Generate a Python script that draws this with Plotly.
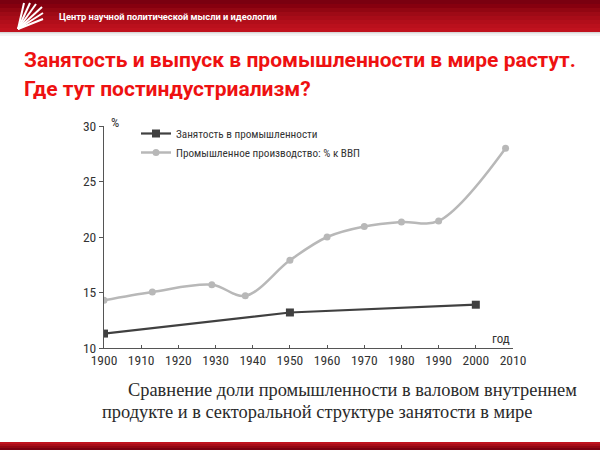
import plotly.graph_objects as go

# data
years_output = [1900, 1913, 1929, 1938, 1950, 1960, 1970, 1980, 1990, 2008]
output_share = [14.3, 15.05, 15.7, 14.7, 17.9, 20.0, 20.95, 21.35, 21.45, 28.0]

years_empl = [1900, 1950, 2000]
empl_share = [11.3, 13.2, 13.9]

x_ticks = [1900, 1910, 1920, 1930, 1940, 1950, 1960, 1970, 1980, 1990, 2000, 2010]
y_ticks = [10, 15, 20, 25, 30]

name_empl = 'Занятость в промышленности'
name_output = 'Промышленное производство: % к ВВП'

# plot area in pixels (600x450 page)
L, R, T, B = 104, 513, 126, 348
NARROW = 'Liberation Sans Narrow, Roboto Condensed, Liberation Sans'


def xp(px):
    return (px - L) / (R - L)


def yp(py):
    return (B - py) / (B - T)


data = [
    go.Scatter(x=years_empl, y=empl_share, mode='lines+markers', name=name_empl,
               line=dict(color='#404040', width=2.2),
               marker=dict(symbol='square', size=8, color='#404040')),
    go.Scatter(x=years_output, y=output_share, mode='lines+markers', name=name_output,
               line=dict(color='#b8b8b8', width=2.5, shape='spline'),
               marker=dict(symbol='circle', size=7, color='#b8b8b8')),
]

shapes = []
# header band with a simple vertical gradient
header_cols = ['#7a0010', '#86000f', '#920612', '#9e0a16', '#a80c18', '#b20e1a', '#ba101c', '#c0121e']
step = 32 / len(header_cols)
for i, c in enumerate(header_cols):
    shapes.append(dict(type='rect', xref='paper', yref='paper', layer='below',
                       x0=xp(0), x1=xp(600), y0=yp(i * step + step + 0.5), y1=yp(i * step),
                       fillcolor=c, line=dict(width=0)))
# shadow under header
for i, c in enumerate(['#d8d8d8', '#e8e8e8', '#f4f4f4']):
    shapes.append(dict(type='rect', xref='paper', yref='paper', layer='below',
                       x0=xp(0), x1=xp(600), y0=yp(33 + i + 1), y1=yp(32 + i),
                       fillcolor=c, line=dict(width=0)))
# bottom band
for i, c in enumerate(['#c0121e', '#a80c18', '#920612', '#7a0010']):
    shapes.append(dict(type='rect', xref='paper', yref='paper', layer='below',
                       x0=xp(0), x1=xp(600), y0=yp(442 + 2 * i + 2.5), y1=yp(442 + 2 * i),
                       fillcolor=c, line=dict(width=0)))
# logo stripes
for (ex, ey) in [(24, 3), (30, 3), (36, 4), (42, 7), (43, 13), (43, 19)]:
    shapes.append(dict(type='line', xref='paper', yref='paper',
                       x0=xp(18), y0=yp(29), x1=xp(ex), y1=yp(ey),
                       line=dict(color='white', width=2)))

annotations = [
    dict(text='<b>Центр научной политической мысли и идеологии</b>', x=xp(57), y=yp(17),
         xanchor='left', yanchor='middle', font=dict(family='Roboto', size=9.3, color='white')),
    dict(text='<b>Занятость и выпуск в промышленности в мире растут.</b>', x=xp(22), y=yp(60),
         xanchor='left', yanchor='middle', font=dict(family='Roboto', size=21, color='#ee1111')),
    dict(text='<b>Где тут постиндустриализм?</b>', x=xp(22), y=yp(89),
         xanchor='left', yanchor='middle', font=dict(family='Roboto', size=21, color='#ee1111')),
    dict(text='%', x=xp(109), y=yp(123), xanchor='left', yanchor='middle',
         font=dict(family=NARROW, size=13, color='#333333')),
    dict(text='год', x=xp(512), y=yp(338), xanchor='right', yanchor='middle',
         font=dict(family=NARROW, size=13, color='#333333')),
    dict(text='Сравнение доли промышленности в валовом внутреннем', x=xp(126), y=yp(390),
         xanchor='left', yanchor='middle', font=dict(family='Liberation Serif', size=18.4, color='#2a2a2a')),
    dict(text='продукте и в секторальной структуре занятости в мире', x=xp(100), y=yp(412),
         xanchor='left', yanchor='middle', font=dict(family='Liberation Serif', size=18.4, color='#2a2a2a')),
]
for a in annotations:
    a.update(xref='paper', yref='paper', showarrow=False)

layout = go.Layout(
    width=600, height=450,
    margin=dict(l=L, r=600 - R, t=T, b=450 - B, autoexpand=False),
    paper_bgcolor='white', plot_bgcolor='white',
    font=dict(family=NARROW, size=13, color='#333333'),
    showlegend=True,
    legend=dict(x=xp(136), y=yp(119), xanchor='left', yanchor='top',
                bgcolor='rgba(0,0,0,0)', itemwidth=30, tracegroupgap=0,
                font=dict(family=NARROW, size=11.2, color='#333333')),
    xaxis=dict(range=[1900, 2010], tickvals=x_ticks, showgrid=False, zeroline=False,
               showline=True, linecolor='#555555', linewidth=1,
               ticks='inside', ticklen=3, tickcolor='#555555',
               tickfont=dict(size=13.5, color='#333333')),
    yaxis=dict(range=[10, 30], tickvals=y_ticks, showgrid=False, zeroline=False,
               showline=True, linecolor='#555555', linewidth=1,
               ticks='outside', ticklen=4, tickcolor='#555555',
               tickfont=dict(size=13.5, color='#333333')),
    shapes=shapes,
    annotations=annotations,
)

fig = go.Figure(data=data, layout=layout)
# drop the browser's default body margin so the page starts at 0,0
fig.write_html('out.html', config={'displayModeBar': False},
               post_script="document.body.style.margin='0';")
